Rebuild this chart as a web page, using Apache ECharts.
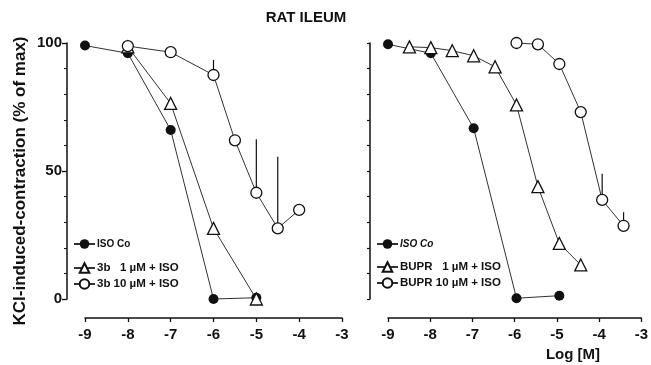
<!DOCTYPE html>
<html><head><meta charset="utf-8">
<script src="https://cdn.jsdelivr.net/npm/echarts@6/dist/echarts.min.js"></script>
<style>html,body{margin:0;padding:0;background:#fff}#c{width:651px;height:365px}</style>
</head><body><div id="c"></div>
<script>
// ---- data ----
const xTickValues = [-9, -8, -7, -6, -5, -4, -3];
const leftIsoX = [-9, -8, -7, -6, -5];
const leftIsoY = [99, 96, 66, 0, 0.5];
const left3b1X = [-8, -7, -6, -5];
const left3b1Y = [98.5, 76.4, 27.6, 0];
const left3b10X = [-8, -7, -6, -5.5, -5, -4.5, -4];
const left3b10Y = [98.8, 96.4, 87.5, 62, 41.5, 27.6, 34.8];
const left3b10ErrX = [-6, -5, -4.5];
const left3b10ErrTop = [93.4, 62.4, 55.6];

const rightIsoX = [-9, -8, -7, -6, -5];
const rightIsoY = [99.5, 96, 66.7, 0.3, 1.3];
const bupr1X = [-8.5, -8, -7.5, -7, -6.5, -6, -5.5, -5, -4.5];
const bupr1Y = [98.5, 98.2, 97, 95, 90.7, 75.8, 43.9, 21.7, 13.3];
const bupr10X = [-6, -5.5, -5, -4.5, -4, -3.5];
const bupr10Y = [100, 99.5, 91.8, 73, 38.7, 28.6];
const bupr10ErrX = [-4, -3.5];
const bupr10ErrTop = [48.9, 33.9];

const zip = (xs, ys) => xs.map((x, i) => [x, ys[i]]);
const errData = (ex, et, xs, ys) => ex.map((x, i) => [x, ys[xs.indexOf(x)], et[i]]);

const FONT = '"Liberation Sans", Arial, sans-serif';
const INK = '#111';
const LINE = '#333';

const chart = echarts.init(document.getElementById('c'), null, {renderer: 'canvas'});

function lineSeries(name, xi, yi, data, symbol, filled, size) {
  return {
    name, type: 'line', xAxisIndex: xi, yAxisIndex: yi, data,
    symbol, symbolSize: size, clip: false, z: 3,
    lineStyle: {color: LINE, width: 1},
    itemStyle: {color: filled ? INK : '#fff', borderColor: INK, borderWidth: filled ? 0 : 1.3},
    emphasis: {disabled: true}, animation: false
  };
}
function errSeries(xi, yi, data) {
  return {
    type: 'custom', xAxisIndex: xi, yAxisIndex: yi, data, z: 2, animation: false,
    renderItem: (params, api) => {
      const p0 = api.coord([api.value(0), api.value(1)]);
      const p1 = api.coord([api.value(0), api.value(2)]);
      return {type: 'line', shape: {x1: p0[0], y1: p0[1], x2: p1[0], y2: p1[1]},
              style: {stroke: INK, lineWidth: 1.2}};
    }
  };
}

const dataXMin = -9 - 18 / 42.83;

function dataX(gi) {
  return {gridIndex: gi, type: 'value', min: dataXMin, max: -3, show: false};
}
function tickX(gi) {
  return {
    gridIndex: gi, type: 'value', min: -9, max: -3, interval: 1, position: 'bottom',
    axisLine: {show: true, lineStyle: {color: INK, width: 1.5}},
    axisTick: {show: true, length: 4, lineStyle: {color: INK, width: 1.3}},
    axisLabel: {show: true, color: INK, fontFamily: FONT, fontWeight: 'bold', fontSize: 15, margin: 9},
    splitLine: {show: false}
  };
}

function legend(name, left, top, fontSize, italic) {
  return {
    data: [name], left, top, padding: 0, itemWidth: 21, itemHeight: 12, itemGap: 5,
    selectedMode: false,
    textStyle: {color: INK, fontFamily: FONT, fontWeight: 'bold', fontSize, fontStyle: italic ? 'italic' : 'normal', padding: [0, 0, 0, -3]}
  };
}

const option = {
  backgroundColor: '#fff',
  animation: false,
  title: [
    {text: 'RAT ILEUM', left: 306, top: 10, textAlign: 'center', padding: 0,
     textStyle: {color: INK, fontFamily: FONT, fontWeight: 'bold', fontSize: 15}},
    {text: 'Log [M]', left: 573, top: 347, textAlign: 'center', padding: 0,
     textStyle: {color: INK, fontFamily: FONT, fontWeight: 'bold', fontSize: 15}}
  ],
  legend: [
    legend('ISO Co', 73, 239, 10, false),
    legend('3b   1 µM + ISO', 73, 262, 11.5, false),
    legend('3b 10 µM + ISO', 73, 278, 11.5, false),
    legend('ISO Co ', 376, 239, 10, true),
    legend('BUPR   1 µM + ISO', 376, 261, 11.5, false),
    legend('BUPR 10 µM + ISO', 376, 277, 11.5, false)
  ],
  grid: [
    {left: 67, top: 43, width: 275, height: 256},
    {left: 370, top: 43, width: 275, height: 256},
    {left: 85, top: 317, width: 257, height: 1},
    {left: 388, top: 317, width: 257, height: 1}
  ],
  xAxis: [dataX(0), dataX(1), tickX(2), tickX(3)],
  yAxis: [
    {gridIndex: 0, type: 'value', min: 0, max: 100, interval: 50,
     name: 'KCl-induced-contraction (% of max)', nameLocation: 'middle', nameGap: 38,
     nameTextStyle: {color: INK, fontFamily: FONT, fontWeight: 'bold', fontSize: 17, padding: [0, 20, 0, 0]},
     axisLine: {show: true, lineStyle: {color: INK, width: 1.5}},
     axisTick: {show: true, length: 5, lineStyle: {color: INK, width: 1.3}},
     minorTick: {show: true, splitNumber: 5, length: 3, lineStyle: {color: INK, width: 1}},
     axisLabel: {color: INK, fontFamily: FONT, fontWeight: 'bold', fontSize: 15, margin: 5},
     splitLine: {show: false}, minorSplitLine: {show: false}},
    {gridIndex: 1, type: 'value', min: 0, max: 100, interval: 10,
     axisLine: {show: true, lineStyle: {color: INK, width: 1.5}},
     axisTick: {show: true, length: 3, lineStyle: {color: INK, width: 1.2}},
     axisLabel: {show: false}, splitLine: {show: false}},
    {gridIndex: 2, type: 'value', show: false},
    {gridIndex: 3, type: 'value', show: false}
  ],
  series: [
    errSeries(0, 0, errData(left3b10ErrX, left3b10ErrTop, left3b10X, left3b10Y)),
    lineSeries('ISO Co', 0, 0, zip(leftIsoX, leftIsoY), 'circle', true, 10),
    lineSeries('3b   1 µM + ISO', 0, 0, zip(left3b1X, left3b1Y), 'triangle', false, 12),
    lineSeries('3b 10 µM + ISO', 0, 0, zip(left3b10X, left3b10Y), 'circle', false, 11),
    errSeries(1, 1, errData(bupr10ErrX, bupr10ErrTop, bupr10X, bupr10Y)),
    lineSeries('ISO Co ', 1, 1, zip(rightIsoX, rightIsoY), 'circle', true, 10),
    lineSeries('BUPR   1 µM + ISO', 1, 1, zip(bupr1X, bupr1Y), 'triangle', false, 12),
    lineSeries('BUPR 10 µM + ISO', 1, 1, zip(bupr10X, bupr10Y), 'circle', false, 11)
  ]
};
chart.setOption(option);
</script></body></html>
